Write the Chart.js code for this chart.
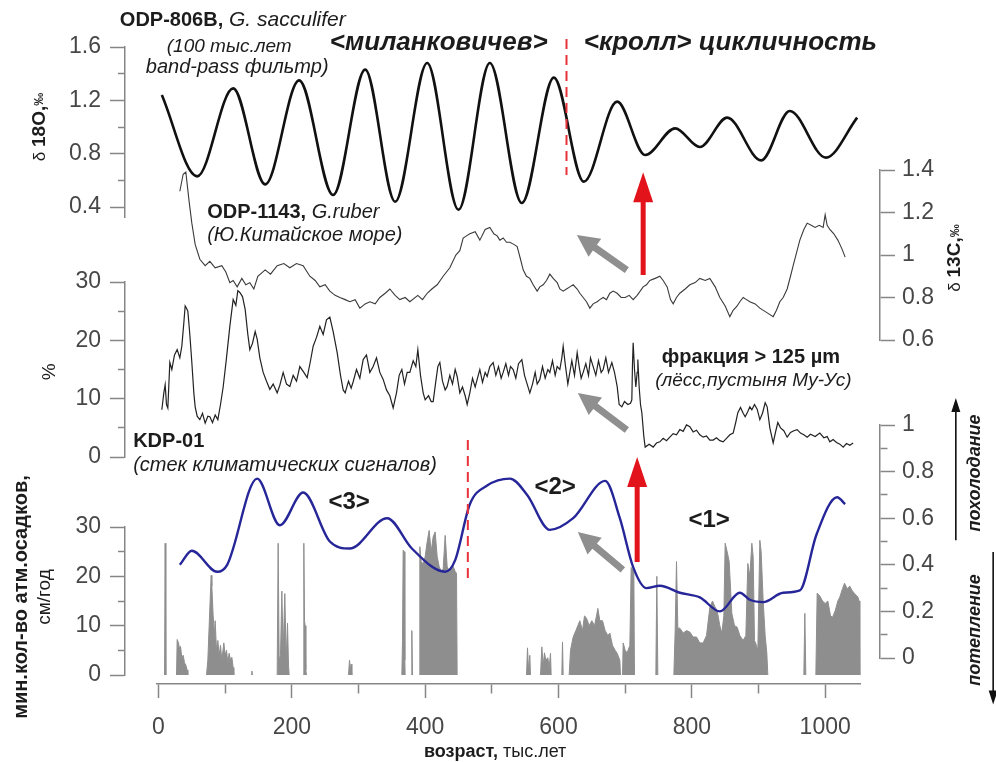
<!DOCTYPE html>
<html>
<head>
<meta charset="utf-8">
<script src="https://cdn.jsdelivr.net/npm/chart.js@4.4.1/dist/chart.umd.min.js"></script>
<style>
  html, body { margin: 0; background: #fff; }
  #wrap { position: relative; width: 996px; height: 762px; }
  #wrap canvas { position: absolute; left: 0; top: 0; }
</style>
</head>
<body>
<div id="wrap">
  <canvas id="precipChart" width="996" height="762"></canvas>
  <canvas id="kdpChart" width="996" height="762"></canvas>
  <canvas id="coarseChart" width="996" height="762"></canvas>
  <canvas id="c13Chart" width="996" height="762"></canvas>
  <canvas id="o18Chart" width="996" height="762"></canvas>
  <canvas id="axisChart" width="996" height="762"></canvas>
</div>
<script>
// ODP-806B, G. sacculifer, d18O, 100 kyr band-pass [age ka, permil]
const o18 = [[5,1.24],[58,0.63],[112,1.29],[160,0.57],[211,1.35],[262,0.49],[310,1.43],[355,0.44],
  [403,1.48],[450,0.38],[497,1.48],[545,0.43],[593,1.37],[638,0.59],[688,1.19],[730,0.79],
  [775,0.99],[812,0.85],[853,1.07],[904,0.75],[947,1.12],[1001,0.77],[1048,1.07]];

// ODP-1143, G. ruber, d13C [age ka, permil]
const c13 = [[32,1.30],[37,1.38],[41,1.39],[46,1.25],[50,1.15],[55,1.05],[62,0.98],[70,0.95],[77,0.97],
  [85,0.94],[95,0.95],[101,0.92],[107,0.87],[112,0.88],[118,0.85],[125,0.89],[131,0.86],[137,0.87],
  [143,0.84],[149,0.90],[160,0.93],[168,0.91],[178,0.95],[188,0.96],[197,0.94],[207,0.96],[217,0.95],
  [227,0.90],[235,0.88],[242,0.85],[250,0.86],[257,0.83],[265,0.81],[272,0.80],[280,0.79],[287,0.78],
  [295,0.79],[302,0.75],[310,0.77],[317,0.78],[325,0.77],[332,0.80],[340,0.82],[347,0.84],[355,0.81],
  [362,0.79],[370,0.80],[377,0.78],[389,0.81],[396,0.79],[403,0.82],[410,0.84],[418,0.86],[427,0.90],
  [437,0.94],[446,1.00],[452,1.02],[457,1.08],[462,1.09],[467,1.10],[475,1.11],[482,1.07],[490,1.12],
  [497,1.13],[503,1.10],[508,1.09],[512,1.07],[517,1.08],[522,1.06],[527,1.06],[533,1.05],[538,1.04],
  [543,0.98],[547,0.93],[552,0.90],[557,0.89],[562,0.86],[568,0.83],[572,0.85],[577,0.86],[582,0.88],
  [587,0.91],[592,0.89],[598,0.87],[602,0.84],[607,0.83],[612,0.84],[617,0.85],[622,0.86],[628,0.84],
  [632,0.82],[637,0.80],[642,0.78],[647,0.75],[652,0.77],[658,0.78],[662,0.79],[667,0.80],[672,0.79],
  [677,0.82],[682,0.83],[688,0.82],[694,0.80],[700,0.80],[706,0.81],[712,0.79],[718,0.81],[727,0.85],
  [732,0.86],[737,0.88],[745,0.89],[752,0.90],[757,0.88],[763,0.85],[768,0.79],[772,0.77],[777,0.80],
  [782,0.82],[790,0.84],[797,0.86],[805,0.87],[812,0.89],[820,0.88],[827,0.89],[835,0.85],[842,0.80],
  [850,0.76],[857,0.71],[862,0.74],[868,0.76],[872,0.78],[877,0.80],[882,0.79],[887,0.78],[895,0.77],
  [902,0.75],[912,0.73],[922,0.71],[927,0.74],[932,0.78],[937,0.80],[943,0.84],[948,0.90],[952,0.95],
  [957,1.01],[962,1.07],[968,1.12],[973,1.15],[979,1.14],[985,1.13],[991,1.14],[997,1.13],[1000,1.19],
  [1003,1.14],[1007,1.12],[1013,1.10],[1019,1.07],[1025,1.03],[1030,0.99]];

// fraction > 125 um, Mu Us loess [age ka, %]
const coarse = [[5,8.1],[8,11],[10,12.4],[12,9],[14,8.4],[17,16.2],[20,15],[24,17.5],[28,18.4],[32,17],
  [35,19],[38,23],[40,25.9],[42,25.5],[44,25],[47,21],[50,16.2],[53,11],[55,8.6],[58,7],[62,6.4],
  [66,7.5],[70,5.8],[74,7],[77,6.9],[81,5.9],[85,7.2],[89,6.4],[93,9],[97,12],[102,17],[107,22.4],
  [112,27],[116,26],[119,28.5],[122,28.2],[126,27.5],[130,25.3],[134,21],[137,18.4],[141,19.5],
  [145,21.5],[148,20.2],[152,17],[157,14.5],[162,13],[167,11.6],[172,12.5],[178,11],[182,12.3],
  [187,14.5],[192,12.5],[197,12.1],[202,14],[207,13],[212,15.5],[218,14.5],[223,13.6],[228,16.5],
  [232,19],[237,20.5],[242,22.4],[247,21],[252,23.5],[257,24],[262,21.5],[268,17.9],[273,14],
  [277,11.5],[280,11],[285,13],[289,11.8],[292,12.9],[297,15],[302,13.5],[307,16.7],[312,17.5],
  [317,14.5],[322,15.5],[327,17],[332,14.5],[337,13.3],[342,11.5],[347,10.5],[352,8.4],[357,11],
  [361,14],[365,15],[369,12.5],[373,14.5],[377,14.5],[382,16.5],[386,15.5],[389,18.4],[393,14],
  [397,11],[400,9.8],[405,10.5],[409,9.5],[412,9.5],[416,13],[419,15.5],[422,16.2],[426,13],[430,11.5],
  [433,12.1],[437,14],[441,12.5],[445,15],[448,13.8],[452,11],[456,12],[460,10.5],[463,9],[467,11],
  [471,13.5],[475,12],[478,13.3],[482,15],[486,12.8],[490,14.5],[493,13.8],[497,15.5],[502,16.2],
  [506,14],[510,15.5],[514,13.5],[517,14.5],[521,16],[525,14],[528,15.5],[532,15],[536,13.5],[540,16],
  [545,16.7],[549,14],[553,12.5],[557,11],[561,12.5],[565,14.5],[568,12.5],[572,13.3],[576,15.5],
  [580,13.5],[584,15],[587,14.5],[591,16.5],[595,14],[598,15.5],[602,15],[605,17],[607,19],[610,16],
  [614,12.5],[617,14.5],[620,16.5],[624,14],[628,17.9],[631,15.5],[634,13.5],[637,14.5],[641,16],
  [645,14],[648,17],[652,15.5],[656,14],[660,16.5],[664,14.5],[667,15],[671,17],[675,14.5],[680,16.2],
  [684,14.5],[688,12.1],[691,9],[695,8.6],[699,9.5],[704,9],[708,9.2],[710,9.8],[711,16],[712,19.6],
  [714,15],[716,12],[718,14.5],[719,16.7],[721,12],[723,9],[725,7.6],[728,3.5],[730,1.7],[736,2.2],
  [742,1.7],[747,2.4],[752,2.6],[757,3.2],[762,2.8],[767,3.4],[772,4],[777,3.8],[782,4.7],[787,4.4],
  [792,5.5],[797,5.2],[802,4.3],[807,4.6],[812,3.8],[817,3.4],[822,3.6],[827,2.9],[832,2.9],[837,3.3],
  [842,2.8],[847,2.6],[852,3.2],[857,3.8],[862,4.1],[866,6],[869,7.6],[873,8.5],[877,7.5],[880,6.9],
  [884,7.8],[887,8.6],[890,8.1],[894,9],[898,8.2],[902,6.4],[906,7.5],[910,9.3],[913,8.6],[917,5],
  [922,2.4],[926,4.5],[929,5.9],[933,5],[938,4.5],[943,3.4],[948,4.2],[953,4.5],[958,4.7],[963,4.1],
  [968,3.8],[973,3.4],[978,3.9],[985,3.5],[992,4.1],[998,3.3],[1003,3.5],[1007,2.6],[1012,3],
  [1017,2.5],[1022,2.2],[1027,1.7],[1032,2.3],[1037,2],[1042,2.4]];

// minimum precipitation, cm/yr [age ka, value]; null breaks the grey fill
const precip = [[9,0],[10,26.7],[11,0],[11.5,null],
  [27,0],[28,7.2],[30,6.5],[32,5],[33,5.8],[35,3.5],[37,4],[39,2.5],[41,2],[43,1],[44,0],[44.5,null],
  [72,0],[74,3],[76,10],[78,17],[79,20.2],[80,18],[82,12],[84,8],[85,11],[87,5],[89,7],[91,4],[93,6],
  [95,3],[98,6.5],[100,4],[102,5],[104,2.5],[106,4.4],[108,3],[110,3.6],[112,1.5],[113,0],[113.5,null],
  [139,0],[140,0.8],[141,0],[141.5,null],
  [178,0],[179.5,26.7],[181,3],[183,4],[185,17],[187,5],[189.5,16.5],[191.5,3],[193.5,10.5],[195,2],
  [196,0],[196.5,null],
  [217,0],[218,26.7],[219,11],[220,10],[221,1],[222,0],[222.5,null],
  [285,0],[286.5,3],[288,1],[289,2.2],[290,0],[290.5,null],
  [365,0],[366,7],[367,25.3],[368.5,25],[369.5,3],[370,0],[370.5,null],
  [379,0],[380,9],[381,0],[381.5,null],
  [391,0],[392,26],[394,23],[397,22.5],[400,24],[403,27],[406,29.3],[409,25],[412,28],[415,29],[418,24],
  [421,22],[424,21],[427,21.5],[430,28.3],[433,22],[436,21],[439,21.3],[442,22],[445,21],[447,20.6],
  [448,0],[448.5,null],
  [552,0],[553.5,5.5],[555,1],[557,4],[558,0],[558.5,null],
  [573,0],[575,5.7],[577,2],[579,4.5],[581,3],[584,3.5],[586,1.5],[588,4.4],[589,0],[589.5,null],
  [605,0],[606,6.7],[607,0],[607.5,null],
  [616,0],[618,5],[622,7.7],[626,9],[629,10],[632,11],[636,9],[639,12],[642,11.5],[646,10],[650,11],
  [654,10],[657,12],[659,13.5],[662,11],[666,11],[670,9],[674,8],[677,8.5],[681,6],[685,5],[688,4.4],
  [692,3],[693,0],[693.5,null],
  [696,0],[697,6.5],[700,5],[703,4.5],[707,6],[709,21.8],[713,21],[714,0],[714.5,null],
  [746,0],[747.5,20],[749,0],[749.5,null],
  [773,0],[775,9],[777,23],[779,9.5],[782,9.5],[787,8.5],[792,9],[797,8.7],[802,7.7],[807,7.7],
  [812,6.5],[817,6.5],[822,8],[827,13.7],[831,15],[834,14],[838,13],[842,10],[845,8.5],[848,12],
  [850,26.7],[853,25],[856,23],[860,12.5],[864,10],[868,9.7],[872,8],[877,7],[881,8],[884,22.6],
  [887,20],[890,26.7],[892,24],[894,7],[897,6],[899,5],[902,27.3],[904,25],[907,15],[910,8],
  [912.5,4.4],[914,0],[914.5,null],
  [968,0],[969.5,12.5],[971,0],[971.5,null],
  [986,0],[988,16.6],[992,16],[996,15],[1000,14.5],[1004,15],[1008,12],[1011,11.7],[1015,13],
  [1019,15],[1022,15.8],[1026,17.5],[1029,18.6],[1033,17.5],[1037,18],[1040,17.2],[1044,16.5],
  [1049,15.8],[1051,15],[1052,0]];

// KDP-01 stack of climate signals [age ka, index]
const kdp = [[32,0.40],[50,0.46],[88,0.37],[103,0.40],[148,0.77],[182,0.57],[217,0.71],[257,0.50],
  [287,0.47],[343,0.60],[380,0.47],[430,0.37],[445,0.42],[467,0.66],[493,0.74],[527,0.77],[553,0.70],
  [587,0.55],[622,0.60],[670,0.76],[692,0.60],[712,0.39],[732,0.30],[752,0.31],[782,0.28],[812,0.26],
  [842,0.20],[872,0.28],[887,0.25],[907,0.24],[937,0.28],[962,0.29],[987,0.53],[1018,0.69],[1030,0.66]];

// ticks
const ageMajor = [0, 200, 400, 600, 800, 1000];
const ageMinor = [100, 300, 500, 700, 900];
const o18Major = [0.4, 0.8, 1.2, 1.6], o18Minor = [0.6, 1.0, 1.4];
const c13Major = [0.6, 0.8, 1, 1.2, 1.4];
const pctMajor = [0, 10, 20, 30], pctMinor = [5, 15, 25];
const kdpMajor = [0, 0.2, 0.4, 0.6, 0.8, 1], kdpMinor = [0.1, 0.3, 0.5, 0.7, 0.9];

const FONT = "'Liberation Sans', Arial, sans-serif";
Chart.defaults.font.family = FONT;
const AXIS = '#868686', LABEL = '#474747', INK = '#1c1c1c';
const B = s => 'bold ' + s + 'px ' + FONT;
const I = s => 'italic ' + s + 'px ' + FONT;
const BI = s => 'italic bold ' + s + 'px ' + FONT;
const N = s => s + 'px ' + FONT;
const UP = -Math.PI / 2;

const pts = arr => arr.map(([x, y]) => ({x, y}));

function arrow(ctx, x1, y1, x2, y2, kind) {
  const st = {
    red: {shaft: 5, head: 30, wide: 20, color: '#e3131b'},
    grey: {shaft: 7, head: 22, wide: 22, color: '#8f8f8f'},
    thin: {shaft: 1.6, head: 14, wide: 9, color: '#111'}
  }[kind];
  const len = Math.hypot(x2 - x1, y2 - y1);
  const ux = (x2 - x1) / len, uy = (y2 - y1) / len, nx = -uy, ny = ux;
  const bx = x2 - ux * st.head, by = y2 - uy * st.head;
  ctx.beginPath();
  ctx.moveTo(x1 + nx * st.shaft / 2, y1 + ny * st.shaft / 2);
  ctx.lineTo(bx + nx * st.shaft / 2, by + ny * st.shaft / 2);
  ctx.lineTo(bx + nx * st.wide / 2, by + ny * st.wide / 2);
  ctx.lineTo(x2, y2);
  ctx.lineTo(bx - nx * st.wide / 2, by - ny * st.wide / 2);
  ctx.lineTo(bx - nx * st.shaft / 2, by - ny * st.shaft / 2);
  ctx.lineTo(x1 - nx * st.shaft / 2, y1 - ny * st.shaft / 2);
  ctx.closePath();
  ctx.fillStyle = st.color;
  ctx.fill();
}

function note(ctx, x, y, n) {
  ctx.save();
  ctx.translate(x, y);
  if (n.rot) ctx.rotate(n.rot);
  ctx.textBaseline = 'middle';
  ctx.textAlign = 'left';
  let w = 0;
  n.runs.forEach(r => { ctx.font = r[1]; w += ctx.measureText(r[0]).width; });
  let cx = n.align === 'center' ? -w / 2 : 0;
  n.runs.forEach(r => {
    ctx.font = r[1];
    ctx.fillStyle = r[2] || INK;
    ctx.fillText(r[0], cx, 0);
    cx += ctx.measureText(r[0]).width;
  });
  ctx.restore();
}

// annotations placed in the panel's own data coordinates
function decor(spec) {
  return {
    id: 'decor',
    afterDraw(chart) {
      const {ctx} = chart;
      const px = a => chart.scales.x.getPixelForValue(a);
      const py = v => chart.scales.y.getPixelForValue(v);
      ctx.save();
      (spec.dashes || []).forEach(d => {
        ctx.beginPath();
        ctx.setLineDash([10, 6]);
        ctx.lineWidth = 2;
        ctx.strokeStyle = '#e8333a';
        ctx.moveTo(px(d.age), py(d.from));
        ctx.lineTo(px(d.age), py(d.to));
        ctx.stroke();
      });
      ctx.setLineDash([]);
      (spec.arrows || []).forEach(a =>
        arrow(ctx, px(a.from[0]), py(a.from[1]), px(a.to[0]), py(a.to[1]), a.kind));
      (spec.notes || []).forEach(n => note(ctx, px(n.at[0]), py(n.at[1]), n));
      ctx.restore();
    }
  };
}

function yScale(position, min, max, major, minor) {
  const all = major.concat(minor).sort((a, b) => a - b);
  const dash = position === 'left' ? [0, 8, 7, 40] : [7, 40];
  return {
    position, min, max,
    afterBuildTicks: ax => { ax.ticks = all.map(v => ({value: v})); },
    afterFit: ax => { ax.width = 100; },
    border: {color: AXIS, width: 1.5},
    grid: {
      drawOnChartArea: false, tickLength: 15, tickWidth: 1.5, tickColor: AXIS,
      tickBorderDash: c => (c.tick && !major.includes(c.tick.value)) ? dash : []
    },
    ticks: {
      autoSkip: false, padding: position === 'left' ? 9 : 7, color: LABEL, font: {size: 23},
      callback: v => major.includes(v) ? String(v) : ''
    }
  };
}

function panel(id, padding, dataset, y, spec) {
  return new Chart(document.getElementById(id), {
    type: 'line',
    data: {datasets: [Object.assign({pointRadius: 0, tension: 0}, dataset)]},
    options: {
      responsive: false, animation: false, devicePixelRatio: 1,
      layout: {padding},
      plugins: {legend: {display: false}, tooltip: {enabled: false}},
      scales: {x: {type: 'linear', display: false, min: -50.25, max: 1082.25}, y}
    },
    plugins: [decor(spec)]
  });
}

// grey precipitation fill
panel('precipChart', {left: 25, right: 116, top: 527, bottom: 87},
  {data: pts(precip), borderColor: '#8e8e8e', backgroundColor: '#8e8e8e', borderWidth: 1,
   fill: 'origin', spanGaps: false},
  yScale('left', 0, 30, pctMajor, pctMinor),
  {notes: [
    {runs: [['мин.кол-во атм.осадков,', B(20)]], at: [-205, 15.8], align: 'center', rot: UP},
    {runs: [['см/год', N(19)]], at: [-170, 15.8], align: 'center', rot: UP}
  ]});

// KDP-01 stack
panel('kdpChart', {left: 125, right: 16, top: 425, bottom: 104},
  {data: pts(kdp), borderColor: '#262699', borderWidth: 2.4, cubicInterpolationMode: 'monotone'},
  yScale('right', 0, 1, kdpMajor, kdpMinor),
  {dashes: [{age: 464, from: 0.936, to: 0.335}],
   arrows: [
     {from: [718, 0.412], to: [718, 0.863], kind: 'red'},
     {from: [696.5, 0.378], to: [629, 0.541], kind: 'grey'},
     {from: [1196, 0.505], to: [1196, 1.116], kind: 'thin'},
     {from: [1252, 0.455], to: [1252, -0.2], kind: 'thin'}
   ],
   notes: [
     {runs: [['KDP-01', B(20)]], at: [-38, 0.931]},
     {runs: [['(стек климатических сигналов)', I(20)]], at: [-38, 0.828]},
     {runs: [['<3>', B(24)]], at: [286, 0.67], align: 'center'},
     {runs: [['<2>', B(24)]], at: [595, 0.734], align: 'center'},
     {runs: [['<1>', B(24)]], at: [826, 0.592], align: 'center'},
     {runs: [['похолодание', BI(18)]], at: [1225, 0.794], align: 'center', rot: UP},
     {runs: [['потепление', BI(18)]], at: [1225, 0.12], align: 'center', rot: UP}
   ]});

// coarse fraction
panel('coarseChart', {left: 25, right: 116, top: 282, bottom: 305},
  {data: pts(coarse), borderColor: '#222', borderWidth: 1.2},
  yScale('left', 0, 30, pctMajor, pctMinor),
  {arrows: [{from: [702.5, 4.63], to: [629, 10.97], kind: 'grey'}],
   notes: [
     {runs: [['фракция > 125 µm', B(20)]], at: [755, 17]},
     {runs: [['(лёсс,пустыня Му-Ус)', I(19)]], at: [745, 13]},
     {runs: [['%', N(19)]], at: [-163, 14.6], align: 'center', rot: UP}
   ]});

// d13C
panel('c13Chart', {left: 125, right: 16, top: 170, bottom: 422},
  {data: pts(c13), borderColor: '#3a3a3a', borderWidth: 1.1},
  yScale('right', 0.6, 1.4, c13Major, []),
  {arrows: [
     {from: [727, 0.906], to: [727, 1.39], kind: 'red'},
     {from: [702.5, 0.929], to: [627.6, 1.094], kind: 'grey'}
   ],
   notes: [
     {runs: [['ODP-1143,', B(20)], [' G.ruber', I(20)]], at: [73, 1.198]},
     {runs: [['(Ю.Китайское море)', I(20)]], at: [73, 1.09]},
     {runs: [['δ ', N(17)], ['13C,', B(19)], ['‰', B(13)]], at: [1195, 0.986], align: 'center', rot: UP}
   ]});

// d18O
panel('o18Chart', {left: 25, right: 116, top: 47, bottom: 544.33},
  {data: pts(o18), borderColor: '#111', borderWidth: 2.6, cubicInterpolationMode: 'monotone'},
  yScale('left', 0.32, 1.6, o18Major, o18Minor),
  {dashes: [{age: 612, from: 1.66, to: 0.64}],
   notes: [
     {runs: [['ODP-806B,', B(20)], [' G. sacculifer', I(21)]], at: [-58, 1.8]},
     {runs: [['(100 тыс.лет', I(19)]], at: [106, 1.6], align: 'center'},
     {runs: [['band-pass фильтр)', I(20)]], at: [118, 1.45], align: 'center'},
     {runs: [['<миланковичев>', BI(26)]], at: [257, 1.63]},
     {runs: [['<кролл> цикличность', BI(26)]], at: [638, 1.63]},
     {runs: [['δ ', N(17)], ['18O,', B(19)], ['‰', B(13)]], at: [-178, 1.0], align: 'center', rot: UP}
   ]});

// shared age axis
new Chart(document.getElementById('axisChart'), {
  type: 'line',
  data: {datasets: []},
  options: {
    responsive: false, animation: false, devicePixelRatio: 1,
    layout: {padding: {left: 157, right: 136, top: 600, bottom: 18}},
    plugins: {legend: {display: false}, tooltip: {enabled: false}},
    scales: {
      x: {
        type: 'linear', min: -2.25, max: 1052.25,
        afterBuildTicks: ax => {
          ax.ticks = ageMajor.concat(ageMinor).sort((a, b) => a - b).map(v => ({value: v}));
        },
        afterFit: ax => { ax.height = 60; },
        border: {color: AXIS, width: 1.5},
        grid: {
          drawOnChartArea: false, tickLength: 14, tickWidth: 1.5, tickColor: AXIS,
          tickBorderDash: c => (c.tick && !ageMajor.includes(c.tick.value)) ? [9, 40] : []
        },
        ticks: {
          autoSkip: false, maxRotation: 0, padding: 16, color: LABEL, font: {size: 23},
          callback: v => ageMajor.includes(v) ? String(v) : ''
        }
      },
      y: {display: false, min: 0, max: 1}
    }
  },
  plugins: [decor({notes: [
    {runs: [['возраст,', B(18)], [' тыс.лет', N(18)]], at: [505, -0.81], align: 'center'}
  ]})]
});
</script>
</body>
</html>
